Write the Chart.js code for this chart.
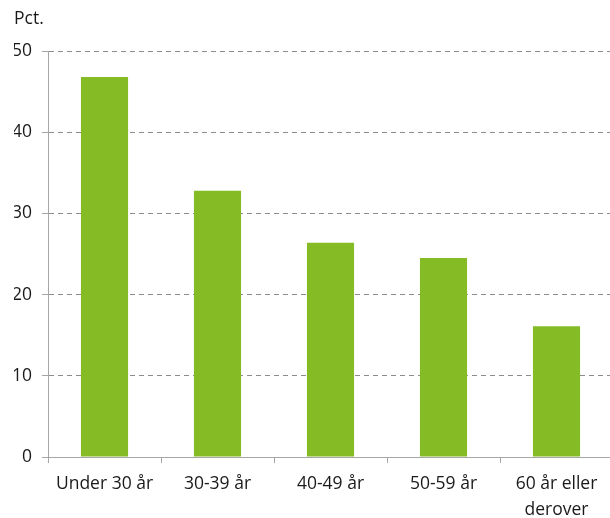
<!DOCTYPE html>
<html>
<head>
<meta charset="utf-8">
<script src="https://cdn.jsdelivr.net/npm/chart.js@4/dist/chart.umd.min.js"></script>
<style>
  body { margin: 0; overflow: hidden; background: #fff; }
  #wrap { width: 613px; height: 518px; }
</style>
</head>
<body>
<div id="wrap"><canvas id="myChart"></canvas></div>
<script>
const kategorier = ['Under 30 år', '30-39 år', '40-49 år', '50-59 år', ['60 år eller', 'derover']]
const andel = [46.8, 32.8, 26.4, 24.5, 16.1]
const yTicks = [0, 10, 20, 30, 40, 50]

Chart.defaults.font.family = '"Open Sans", sans-serif'
Chart.defaults.font.size = 17.5
Chart.defaults.color = '#1a1a1a'

const ctx = document.getElementById('myChart')

window.myChart = new Chart(ctx, {
  type: 'bar',
  data: {
    labels: kategorier,
    datasets: [{
      data: andel,
      backgroundColor: '#85bc26',
      borderWidth: 0,
      categoryPercentage: 1,
      barPercentage: 0.417
    }]
  },
  options: {
    responsive: true,
    maintainAspectRatio: false,
    animation: false,
    layout: { padding: { left: 14, right: 0, top: 9, bottom: 0 } },
    plugins: {
      legend: { display: false },
      tooltip: { enabled: false },
      title: {
        display: true,
        text: 'Pct.',
        align: 'start',
        font: { size: 17.5, weight: 'normal' },
        color: '#1a1a1a',
        padding: { top: 0, bottom: 21 }
      }
    },
    scales: {
      x: {
        offset: true,
        afterFit: s => { s.height = 61 },
        grid: {
          offset: true,
          drawOnChartArea: false,
          drawTicks: true,
          tickLength: 6,
          tickColor: '#a6a6a6'
        },
        border: { color: '#a6a6a6', width: 1 },
        ticks: { padding: 9, maxRotation: 0, autoSkip: false, font: { lineHeight: 1.43 } }
      },
      y: {
        min: 0,
        max: 50,
        afterBuildTicks: s => { s.ticks = yTicks.map(v => ({ value: v })) },
        afterFit: s => { s.width = 34 },
        grid: {
          color: '#8c8c8c',
          lineWidth: 1,
          tickLength: 6,
          tickColor: '#a6a6a6',
          tickBorderDash: []
        },
        border: { color: '#a6a6a6', width: 1, dash: [5, 4] },
        ticks: { padding: 10 }
      }
    }
  }
})
</script>
</body>
</html>
